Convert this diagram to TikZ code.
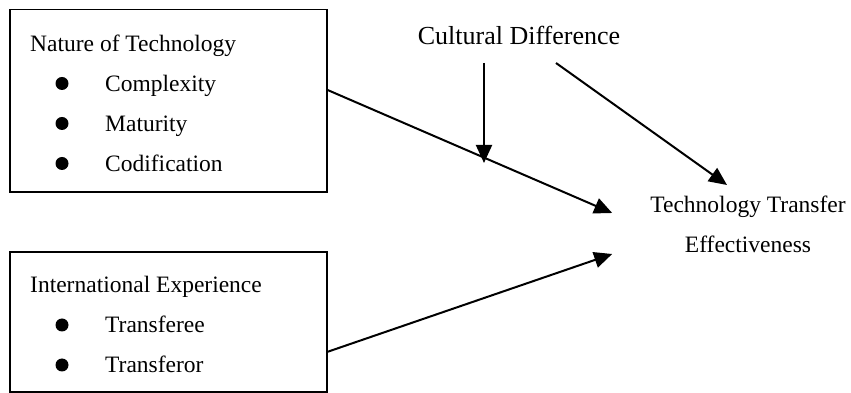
\documentclass[tikz,border=0pt]{standalone}
\usepackage{fontspec}
\setmainfont{Liberation Serif}
\usetikzlibrary{arrows.meta, positioning, calc}

\begin{document}
\begin{tikzpicture}[x=1pt, y=1pt, node distance=60pt, font=\fontsize{23.5}{40}\selectfont]
    \tikzset{
    block/.style = {draw, line width=1.6pt, rectangle, minimum width=317pt, outer sep=0pt, inner sep=0pt},
    txt/.style   = {inner sep=0pt, anchor=base west},
    dot/.style   = {circle, fill, inner sep=0pt, minimum size=13pt},
    line/.style  = {line width=2pt, -{Triangle[length=18pt, width=16pt]}}
    }
    \useasboundingbox (0,0) rectangle (851,393);

    % Factor boxes
    \node[block, minimum height=182.5pt] (nature) at (168.5,292.25) {};
    \node[block, minimum height=140pt, below=of nature] (intl) {};

    % Box contents
    \node[txt] (natureT) at ($(nature.north west)+(20,-42)$) {Nature of Technology};
    \foreach \name [count=\i] in {Complexity, Maturity, Codification} {
        \node[txt] (natureI\i) at ($(nature.north west)+(95,-42-40*\i)$) {\name};
        \node[dot] (natureD\i) at ($(natureI\i.base west)+(-43,8)$) {};
    }
    \node[txt] (intlT) at ($(intl.north west)+(20,-41)$) {International Experience};
    \foreach \name [count=\i] in {Transferee, Transferor} {
        \node[txt] (intlI\i) at ($(intl.north west)+(95,-41-40*\i)$) {\name};
        \node[dot] (intlD\i) at ($(intlI\i.base west)+(-43,8)$) {};
    }

    % Moderator and outcome
    \node[inner sep=0pt, anchor=base, font=\fontsize{26}{30}\selectfont] (culture) at (519,348) {Cultural Difference};
    \node[inner sep=0pt, anchor=base, align=center] (tte) at (748,140) {Technology Transfer\\Effectiveness};

    % Connections
    \coordinate (natureOut) at ($(nature.east)+(0,11)$);
    \coordinate (intlOut) at ($(intl.east)+(0,-30)$);
    \coordinate (in1) at ($(tte.base west)+(-38,40)$);
    \coordinate (in2) at ($(tte.base west)+(-38,-1)$);
    \coordinate (mod) at ($(culture.base)+(-35,-118)$);
    \draw[line] (natureOut) -- (in1);
    \draw[line] (intlOut) -- (in2);
    \draw[line] ($(culture.base)+(-35,-18)$) -- (mod);
    \draw[line] ($(culture.base)+(37,-18)$) -- ($(tte.base)+(-21,68)$);
\end{tikzpicture}
\end{document}
